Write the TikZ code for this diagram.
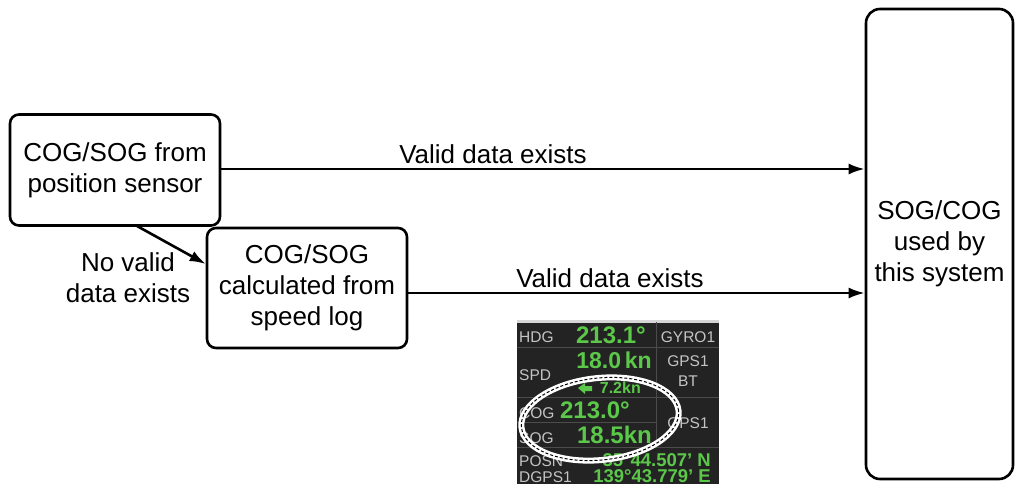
\documentclass[tikz,border=0pt]{standalone}
\usepackage{fontspec}
\setmainfont{Liberation Sans}
\usetikzlibrary{arrows.meta}
\definecolor{panelbg}{HTML}{232323}
\definecolor{panelgrid}{HTML}{4C4C4C}
\definecolor{panelgray}{HTML}{C4C4C4}
\definecolor{panelgreen}{HTML}{5CC84A}
\tikzset{
  flowbox/.style={draw, line width=2.6pt, rounded corners=9pt, align=center, inner sep=0pt,
    font=\fontsize{26}{31}\selectfont},
  flowarrow/.style={line width=2.6pt, -{Latex[length=16pt,width=11pt]}},
  flowlabel/.style={font=\fontsize{26}{31}\selectfont, align=center, inner sep=0pt},
  plabel/.style={anchor=base west, text=panelgray, font=\fontsize{15.5}{17}\selectfont, inner sep=0pt},
  pclabel/.style={anchor=base, text=panelgray, font=\fontsize{15.5}{17}\selectfont, inner sep=0pt},
  pvalue/.style={anchor=base east, text=panelgreen, font=\bfseries\fontsize{24}{26}\selectfont, inner sep=0pt},
  pvalsmall/.style={anchor=base east, text=panelgreen, font=\bfseries\fontsize{18.5}{20}\selectfont, inner sep=0pt},
}
\begin{document}
\begin{tikzpicture}[x=1pt, y=-1pt]
\useasboundingbox (0,0) rectangle (1016,484);

% boxes
\node[flowbox, minimum width=210pt, minimum height=111pt] (pos) at (115,170) {COG/SOG from\\position sensor};
\node[flowbox, minimum width=200pt, minimum height=120pt] (log) at (307,288) {COG/SOG\\calculated from\\speed log};
\node[flowbox, rounded corners=14pt, minimum width=147pt, minimum height=470pt] (sys) at (939.5,244) {SOG/COG\\used by\\this system};

% connectors
\draw[flowarrow] (pos.east |- 0,169) -- (sys.west |- 0,169);
\draw[flowarrow] (log.east |- 0,293) -- (sys.west |- 0,293);
\coordinate (dstart) at (137,226);
\draw[flowarrow] (dstart) -- (log.west |- 0,264);

% labels
\node[flowlabel] (lab1) at (493,154) {Valid data exists};
\node[flowlabel] (lab2) at (610,278) {Valid data exists};
\node[flowlabel] (lab3) at (128,278) {No valid\\data exists};

% display panel
\fill[panelbg] (517,321) rectangle (719,484);
\fill[panelgray!70] (517,320) rectangle (719,322.5);
\draw[panelgrid, line width=1pt] (517,347) -- (719,347);
\draw[panelgrid, line width=1pt] (517,397) -- (719,397);
\draw[panelgrid, line width=1pt] (517,422) -- (656,422);
\draw[panelgrid, line width=1pt] (517,447) -- (719,447);
\draw[panelgrid, line width=1pt] (656,322) -- (656,447);

\node[plabel] (hdg) at (519,342) {HDG};
\node[pvalue] (hdgv) at (646,343) {213.1°};
\node[pclabel] (gyro) at (688,342) {GYRO1};

\node[plabel] (spd) at (519,380) {SPD};
\node[pvalue, font=\bfseries\fontsize{23}{25}\selectfont] (spdv) at (652,368) {18.0\,kn};
\node[pclabel] (gps1a) at (688,366) {GPS1};
\node[pclabel] (bt) at (688,386) {BT};
\fill[panelgreen] (578,388) -- (585,383) -- (585,386) -- (592,386) -- (592,391) -- (585,391) -- (585,394) -- cycle;
\node[pvalue, font=\bfseries\fontsize{16}{17}\selectfont] (drift) at (641,393) {7.2kn};

\node[plabel] (cog) at (519,418) {COG};
\node[pvalue] (cogv) at (630,418) {213.0°};
\node[plabel] (sog) at (519,443) {SOG};
\node[pvalue] (sogv) at (652,443) {18.5kn};
\node[pclabel] (gps1b) at (688,428) {GPS1};

\node[plabel] (posn) at (519,466) {POSN};
\node[plabel] (dgps) at (519,482) {DGPS1};
\node[pvalsmall] (lat) at (711,466) {35°44.507\symbol{"27} N};
\node[pvalsmall] (lon) at (711,482) {139°43.779\symbol{"27} E};

% highlight ellipse
\draw[white, line width=6pt, rotate around={6:(600,419)}] (600,419) ellipse [x radius=79pt, y radius=41pt];
\draw[black, line width=1pt, dash pattern=on 3pt off 2pt, rotate around={6:(600,419)}] (600,419) ellipse [x radius=79pt, y radius=41pt];
\end{tikzpicture}
\end{document}
